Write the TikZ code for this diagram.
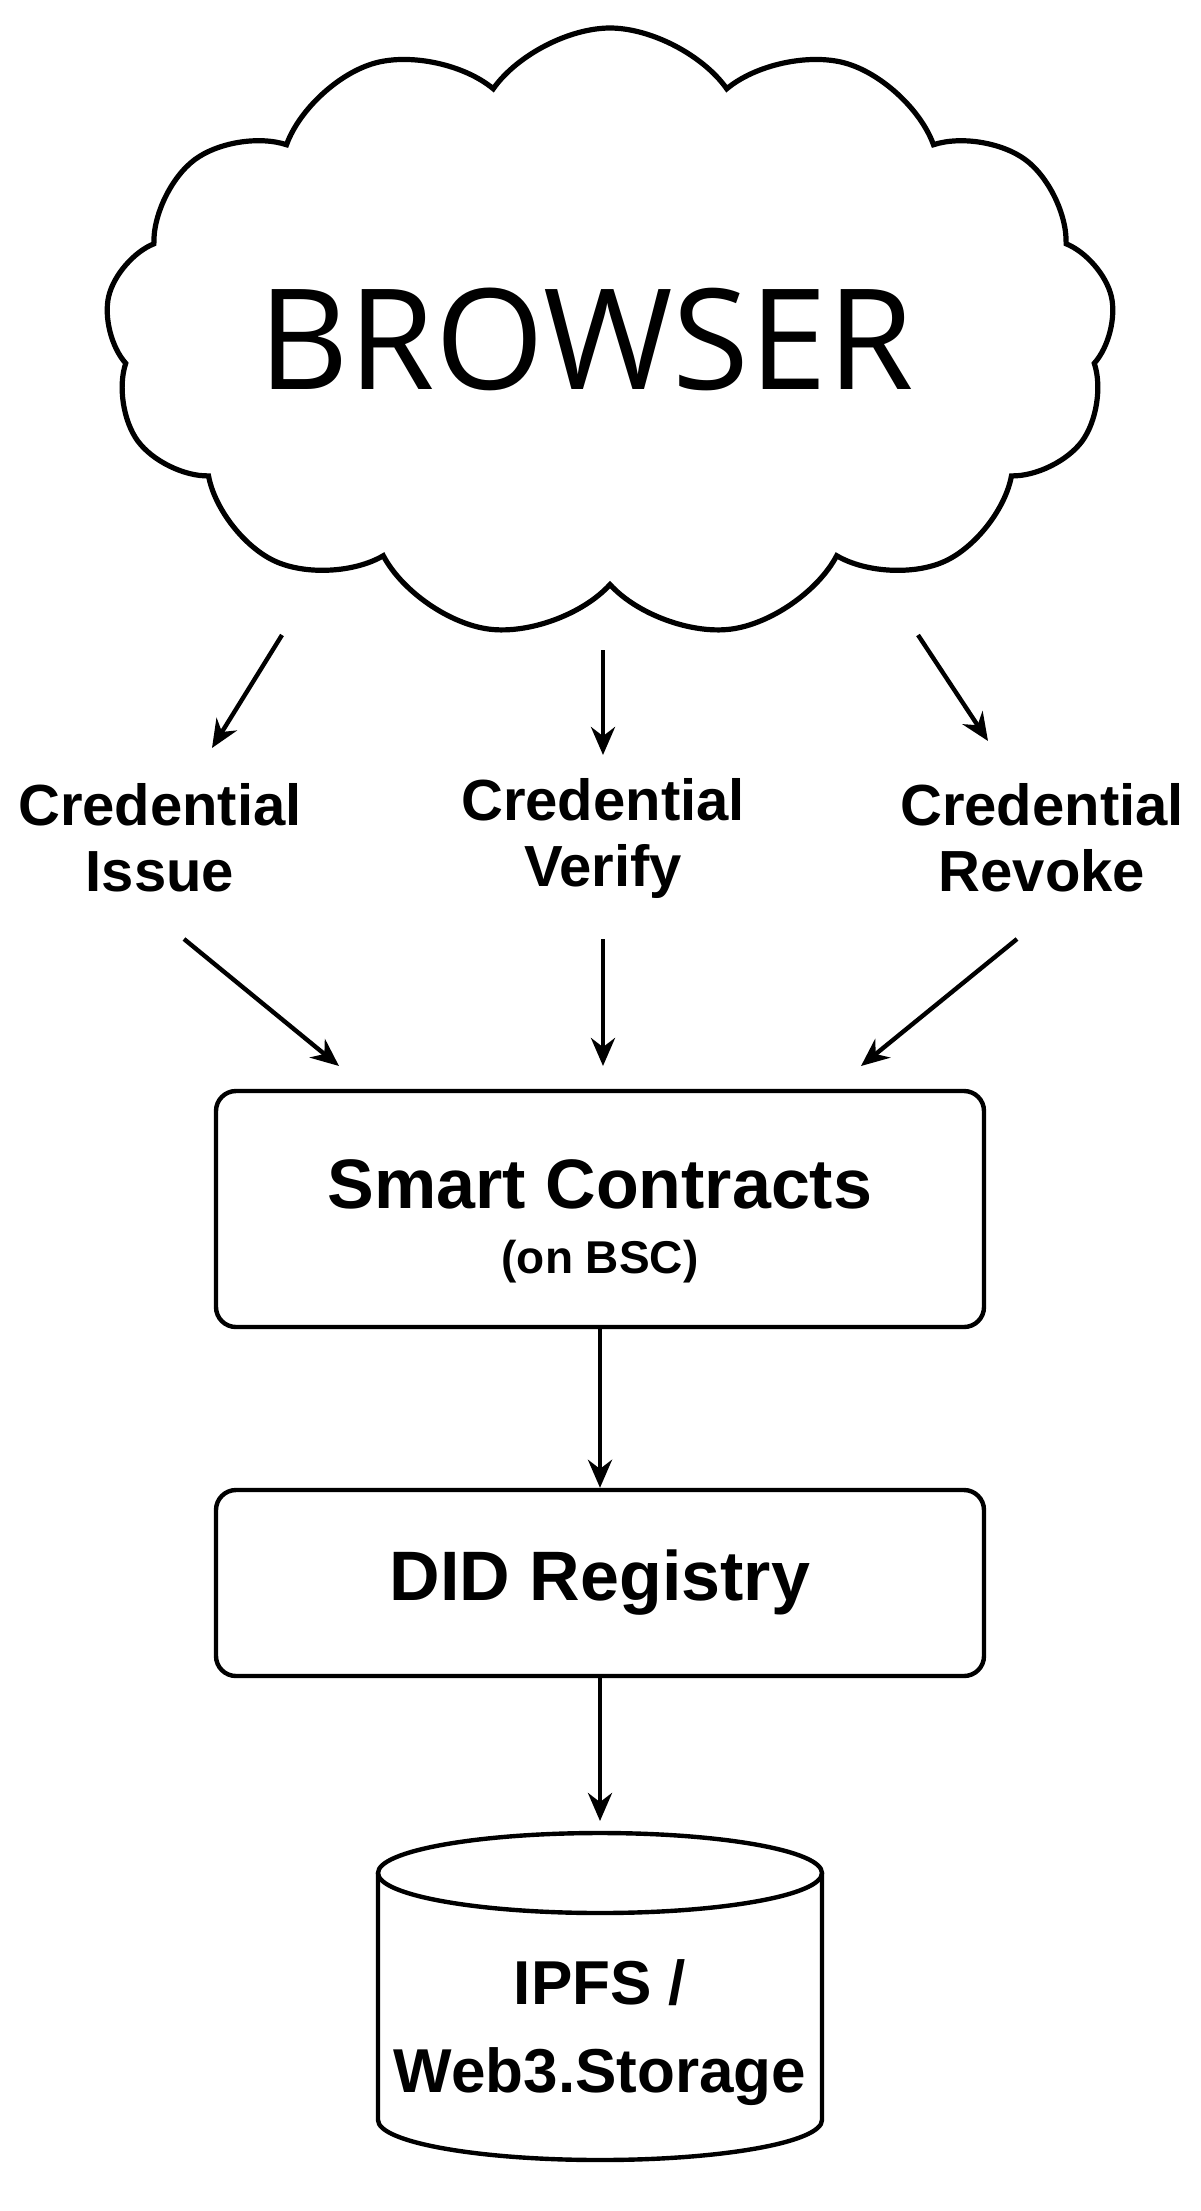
\documentclass[tikz,border=0pt]{standalone}
\usepackage{fontspec}
\setmainfont{Liberation Sans}
\newfontfamily\brfont{Open Sans}
\usetikzlibrary{shapes.symbols,arrows.meta}
\begin{document}
\begin{tikzpicture}[x=0.5pt,y=-0.5pt,
  arr/.style={line width=2.2pt,-{Stealth[length=14pt,width=12pt]}},
  lab/.style={font=\fontsize{29}{33}\selectfont\bfseries,align=center},
  box/.style={draw,line width=2.2pt,rounded corners=10pt,minimum width=384pt}]
\useasboundingbox (0,0) rectangle (1200,2211);
\node[cloud,cloud puffs=13,cloud puff arc=110,aspect=1.65,draw,line width=2.6pt,minimum width=505pt,minimum height=305pt] (cloud) at (610,333) {};
\node[font=\brfont\fontsize{70}{80}\selectfont] (br) at (586,339) {BROWSER};
\coordinate (c1) at (282,635); \coordinate (e1) at (212,748);
\coordinate (c2) at (603,650); \coordinate (e2) at (603,755);
\coordinate (c3) at (918,635); \coordinate (e3) at (988,741);
\node[lab] (li) at (160,838) {Credential\\Issue};
\node[lab] (lv) at (603,838) {Credential\\Verify};
\node[lab] (lr) at (1042,838) {Credential\\Revoke};
\draw[arr] (c1) -- (e1);
\draw[arr] (c2) -- (e2);
\draw[arr] (c3) -- (e3);
\coordinate (s1) at (184,939); \coordinate (t1) at (339,1066);
\coordinate (s2) at (603,939); \coordinate (t2) at (603,1066);
\coordinate (s3) at (1017,939); \coordinate (t3) at (861,1066);
\draw[arr] (s1) -- (t1);
\draw[arr] (s2) -- (t2);
\draw[arr] (s3) -- (t3);
\node[box,minimum height=118pt] (sc) at (600,1209) {};
\node[font=\fontsize{35}{40}\selectfont\bfseries] (sct) at (600,1184) {Smart Contracts};
\node[font=\fontsize{23}{28}\selectfont\bfseries] (scb) at (600,1262) {(on BSC)};
\node[box,minimum height=93pt,font=\fontsize{35}{40}\selectfont\bfseries] (did) at (600,1583) {DID Registry};
\coordinate (cyl) at (600,1821);
\draw[arr] (sc.south) -- (did.north);
\draw[arr] (did.south) -- (cyl);
\draw[line width=2.2pt] (600,1873) ellipse [x radius=222, y radius=40];
\draw[line width=2.2pt] (378,1873) -- (378,2120) arc[start angle=180,end angle=0,x radius=222,y radius=40] -- (822,1873);
\node[lab,font=\fontsize{31}{44}\selectfont\bfseries] (store) at (600,2033) {IPFS /\\Web3.Storage};
\end{tikzpicture}
\end{document}
